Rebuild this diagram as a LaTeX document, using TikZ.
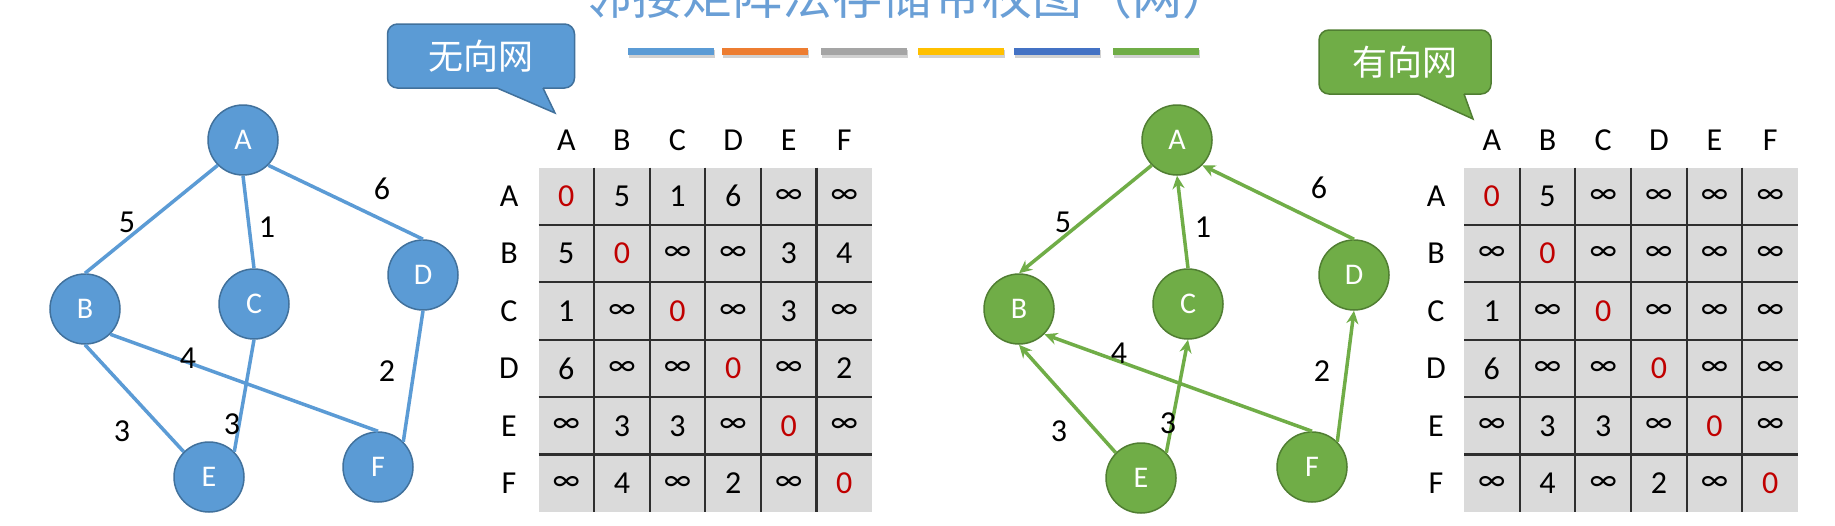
\documentclass[tikz,border=0pt]{standalone}
\usepackage{fontspec}
\setmainfont{Carlito}
\newfontfamily\cjk{Noto Sans CJK SC}
\usetikzlibrary{arrows.meta}
\definecolor{bfill}{HTML}{5B9BD5}
\definecolor{bline}{HTML}{41719C}
\definecolor{gfill}{HTML}{70AD47}
\definecolor{gline}{HTML}{507E32}
\definecolor{zred}{HTML}{C00000}
\definecolor{cellgray}{HTML}{DADADA}
\definecolor{gridline}{HTML}{2E2E2E}
\definecolor{titleblue}{HTML}{6A9FD6}
\definecolor{barA}{HTML}{5B9BD5}
\definecolor{barB}{HTML}{ED7D31}
\definecolor{barC}{HTML}{A5A5A5}
\definecolor{barD}{HTML}{FFC000}
\definecolor{barE}{HTML}{4472C4}
\definecolor{barF}{HTML}{70AD47}
\newcommand\zr{\textcolor{zred}{0}}
\newcommand\infy{∞}
\begin{document}
\begin{tikzpicture}[x=1pt,y=-1pt,
  vtx/.style={circle, minimum size=70pt, inner sep=0pt, line width=1.5pt, text=white, font=\fontsize{30}{32}\selectfont},
  bvtx/.style={vtx, fill=bfill, draw=bline},
  gvtx/.style={vtx, fill=gfill, draw=gline},
  bedge/.style={draw=bfill, line width=3.5pt},
  gedge/.style={draw=gfill, line width=3.5pt, -{Stealth[length=13pt,width=12pt]}},
  wlab/.style={font=\fontsize{32}{34}\selectfont, inner sep=0pt},
  cell/.style={font=\fontsize{32}{34}\selectfont, inner sep=0pt},
  callout/.style={rounded corners=10pt, line width=1.5pt, text=white, inner sep=0pt, minimum height=64pt, font=\cjk\fontsize{35}{38}\selectfont},
  barshadow/.style={fill=black, opacity=0.18}
]
\useasboundingbox (0,0) rectangle (1835,525);
\fill[white] (0,0) rectangle (1835,525);

% title (cut at top, as in the reference)
\node[anchor=base west, inner sep=0pt, text=titleblue, font=\cjk\fontsize{50}{52}\selectfont] (title) at (582,14) {邻接矩阵法存储带权图（网）};

% colour bars
\foreach \x/\c [count=\i] in {628/barA,722/barB,821/barC,918/barD,1014/barE,1113/barF}{
  \fill[barshadow] (\x+1,50) rectangle (\x+87,58);
  \fill[\c] (\x,48) rectangle (\x+86,55);
}

% ---------- left: undirected network ----------
\node[bvtx] (LA) at (243,140) {A};
\node[bvtx] (LB) at (85,309) {B};
\node[bvtx] (LC) at (254,304) {C};
\node[bvtx] (LD) at (423,275) {D};
\node[bvtx] (LE) at (209,477) {E};
\node[bvtx] (LF) at (378,467) {F};

\draw[bedge] (LA.south west) -- (LB.north);
\draw[bedge] (LA.south) -- (LC.north);
\draw[bedge] (LA.south east) -- (LD.north);
\draw[bedge] (LB.south) -- (LE.north west);
\draw[bedge] (LB.south east) -- (LF.north);
\draw[bedge] (LC.south) -- (LE.north east);
\draw[bedge] (LD.south) -- (LF.north east);

\node[wlab] (lw1) at (127,222) {5};
\node[wlab] (lw2) at (267,227) {1};
\node[wlab] (lw3) at (382,189) {6};
\node[wlab] (lw4) at (188,358) {4};
\node[wlab] (lw5) at (387,371) {2};
\node[wlab] (lw6) at (122,431) {3};
\node[wlab] (lw7) at (232,424) {3};

% callout left
\node[callout, fill=bfill, draw=bline, minimum width=187pt] (cl) at (481,56) {无向网};
\fill[bfill] (497,85) -- (497,88) -- (555,113) -- (543,88) -- (543,85) -- cycle;
\draw[bline, line width=1.5pt] (497,88) -- (555,113) -- (543,88);

% matrix left
\def\mx{538.5}\def\my{167.5}\def\cw{55.6}\def\ch{57.4}
\fill[cellgray] (\mx,\my) rectangle (\mx+6*\cw,\my+6*\ch);
\foreach \i in {1,...,5}{
  \draw[gridline, line width=2.2pt] (\mx+\i*\cw,\my) -- (\mx+\i*\cw,\my+6*\ch);
  \draw[gridline, line width=2.2pt] (\mx,\my+\i*\ch) -- (\mx+6*\cw,\my+\i*\ch);
}
\foreach \l [count=\k] in {A,B,C,D,E,F}{
  \node[cell] (LH-\k) at (\mx+\k*\cw-0.5*\cw,140) {\l};
  \node[cell] (LR-\k) at (509,\my+\k*\ch-0.5*\ch) {\l};
}
\foreach \r/\row in {1/{\zr,5,1,6,\infy,\infy},2/{5,\zr,\infy,\infy,3,4},3/{1,\infy,\zr,\infy,3,\infy},4/{6,\infy,\infy,\zr,\infy,2},5/{\infy,3,3,\infy,\zr,\infy},6/{\infy,4,\infy,2,\infy,\zr}}{
  \foreach \v [count=\c] in \row {
    \node[cell] (L-\r-\c) at (\mx+\c*\cw-0.5*\cw,\my+\r*\ch-0.5*\ch) {\v};
  }
}

% ---------- right: directed network ----------
\node[gvtx] (RA) at (1177,140) {A};
\node[gvtx] (RB) at (1019,309) {B};
\node[gvtx] (RC) at (1188,304) {C};
\node[gvtx] (RD) at (1354,275) {D};
\node[gvtx] (RE) at (1141,478) {E};
\node[gvtx] (RF) at (1312,467) {F};

\draw[gedge] (RA.south west) -- (RB.north);
\draw[gedge] (RC.north) -- (RA.south);
\draw[gedge] (RD.north) -- (RA.south east);
\draw[gedge] (RE.north west) -- (RB.south);
\draw[gedge] (RE.north east) -- (RC.south);
\draw[gedge] (RF.north) -- (RB.south east);
\draw[gedge] (RF.north east) -- (RD.south);

\node[wlab] (rw1) at (1063,222) {5};
\node[wlab] (rw2) at (1203,227) {1};
\node[wlab] (rw3) at (1319,188) {6};
\node[wlab] (rw4) at (1119,353) {4};
\node[wlab] (rw5) at (1322,371) {2};
\node[wlab] (rw6) at (1059,431) {3};
\node[wlab] (rw7) at (1168,423) {3};

% callout right
\node[callout, fill=gfill, draw=gline, minimum width=172pt] (cr) at (1405,62) {有向网};
\fill[gfill] (1418,91) -- (1418,94) -- (1473,119) -- (1464,94) -- (1464,91) -- cycle;
\draw[gline, line width=1.5pt] (1418,94) -- (1473,119) -- (1464,94);

% matrix right
\def\nx{1464}\def\ny{167.5}\def\dw{55.67}
\fill[cellgray] (\nx,\ny) rectangle (\nx+6*\dw,\ny+6*\ch);
\foreach \i in {1,...,5}{
  \draw[gridline, line width=2.2pt] (\nx+\i*\dw,\ny) -- (\nx+\i*\dw,\ny+6*\ch);
  \draw[gridline, line width=2.2pt] (\nx,\ny+\i*\ch) -- (\nx+6*\dw,\ny+\i*\ch);
}
\foreach \l [count=\k] in {A,B,C,D,E,F}{
  \node[cell] (RH-\k) at (\nx+\k*\dw-0.5*\dw,140) {\l};
  \node[cell] (RR-\k) at (1436,\ny+\k*\ch-0.5*\ch) {\l};
}
\foreach \r/\row in {1/{\zr,5,\infy,\infy,\infy,\infy},2/{\infy,\zr,\infy,\infy,\infy,\infy},3/{1,\infy,\zr,\infy,\infy,\infy},4/{6,\infy,\infy,\zr,\infy,\infy},5/{\infy,3,3,\infy,\zr,\infy},6/{\infy,4,\infy,2,\infy,\zr}}{
  \foreach \v [count=\c] in \row {
    \node[cell] (R-\r-\c) at (\nx+\c*\dw-0.5*\dw,\ny+\r*\ch-0.5*\ch) {\v};
  }
}
\end{tikzpicture}
\end{document}
